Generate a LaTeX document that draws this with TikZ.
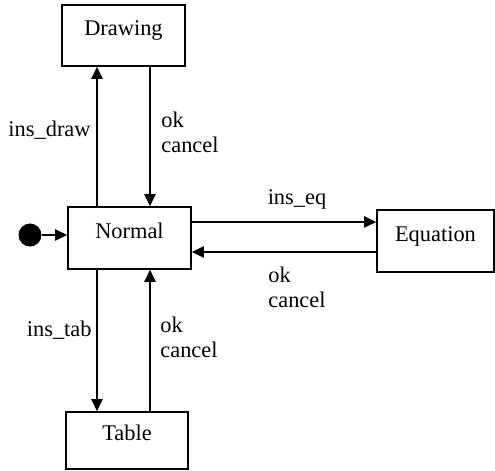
\documentclass[tikz,border=0pt]{standalone}
\usepackage{fontspec}
\setmainfont{Liberation Serif}
\usetikzlibrary{arrows.meta,calc}
\begin{document}
\begin{tikzpicture}[x=0.5pt,y=-0.5pt,
  every node/.style={font=\fontsize{11.2}{12.5}\selectfont},
  state/.style={draw,line width=0.8pt,inner sep=0pt,
    text height=7.5pt,text depth=7pt},
  trans/.style={line width=0.65pt,-{Triangle[length=6pt,width=5.6pt]}},
  lbl/.style={inner sep=0pt,align=left}]
\useasboundingbox (0,0) rectangle (495,471);
% states
\node[state,minimum width=61.5pt,minimum height=30.5pt] (drawing) at (123.5,35.5) {Drawing};
\node[state,minimum width=61.5pt,minimum height=31pt] (normal) at (129.5,238) {Normal};
\node[state,minimum width=58.5pt,minimum height=31pt] (equation) at (435.5,241) {Equation};
\node[state,minimum width=61pt,minimum height=28.5pt] (table) at (127,440.5) {Table};
% initial state
\node[circle,fill,minimum size=11.5pt,inner sep=0pt] (init) at (30,235) {};
\draw[trans] (init) -- (init -| normal.west);
% vertical guides for the transition lines
\coordinate (xl) at (97,0);
\coordinate (xr) at (150,0);
\coordinate (yt) at (0,222);
\coordinate (yb) at (0,252);
% Normal <-> Drawing
\draw[trans] (normal.north -| xl) -- (drawing.south -| xl);
\draw[trans] (drawing.south -| xr) -- (normal.north -| xr);
% Normal <-> Equation
\draw[trans] (normal.east |- yt) -- (equation.west |- yt);
\draw[trans] (equation.west |- yb) -- (normal.east |- yb);
% Normal <-> Table
\draw[trans] (normal.south -| xl) -- (table.north -| xl);
\draw[trans] (table.north -| xr) -- (normal.south -| xr);
% transition labels
\node[lbl,anchor=east] (l1) at (91,130) {ins\_draw};
\node[lbl,anchor=west] (l2) at (161,132) {ok\\cancel};
\node[lbl] (l3) at (297,199) {ins\_eq};
\node[lbl,anchor=west] (l4) at (268,287) {ok\\cancel};
\node[lbl,anchor=east] (l5) at (92,330) {ins\_tab};
\node[lbl,anchor=west] (l6) at (160,337) {ok\\cancel};
\end{tikzpicture}
\end{document}
